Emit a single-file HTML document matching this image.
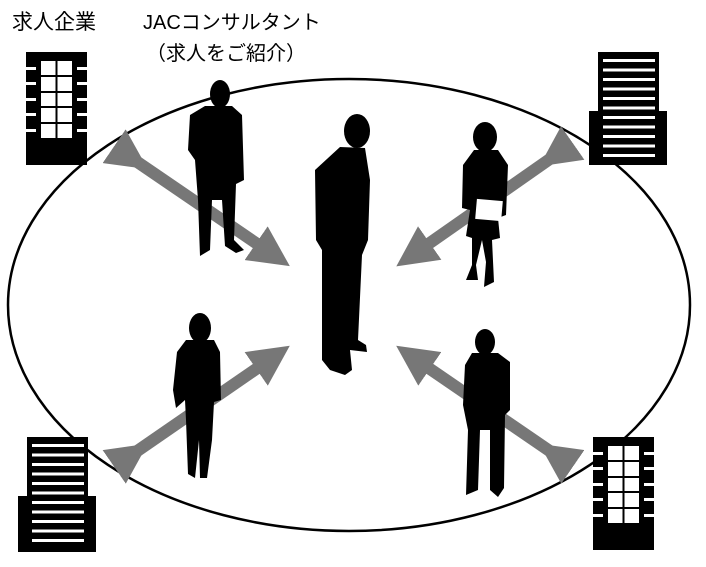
<!DOCTYPE html>
<html><head><meta charset="utf-8"><style>
html,body{margin:0;padding:0;background:#fff;}
svg{display:block}
text{font-family:"Liberation Sans","Noto Sans CJK JP",sans-serif;fill:#000;}
</style></head><body>
<svg width="706" height="567" viewBox="0 0 706 567" xmlns="http://www.w3.org/2000/svg">
<defs>
<marker id="ah" markerWidth="3.4" markerHeight="3.4" refX="1.6" refY="1.7" orient="auto" markerUnits="strokeWidth">
<path d="M0,0 L3.4,1.7 L0,3.4 Z" fill="#777"/></marker>
</defs>
<text x="12" y="29" font-size="21">求人企業</text>
<text x="143" y="29" font-size="20">JACコンサルタント</text>
<text x="146" y="60" font-size="20">（求人をご紹介）</text>

<ellipse cx="349" cy="305" rx="341" ry="226" fill="none" stroke="#000" stroke-width="2.5"/>

<g stroke="#777" stroke-width="12" fill="none">
<line x1="130" y1="157" x2="272" y2="254" marker-start="url(#ah)" marker-end="url(#ah)"/>
<line x1="557" y1="154" x2="414" y2="254" marker-start="url(#ah)" marker-end="url(#ah)"/>
<line x1="130" y1="456" x2="272" y2="358" marker-start="url(#ah)" marker-end="url(#ah)"/>
<line x1="557" y1="456" x2="414" y2="358" marker-start="url(#ah)" marker-end="url(#ah)"/>
</g>

<g>
<rect x="26" y="52" width="61" height="113" fill="#000"/>
<rect x="41" y="61" width="31" height="77" fill="#fff"/>
<g stroke="#000" stroke-width="2"><line x1="56.5" y1="61" x2="56.5" y2="138"/><line x1="41" y1="76" x2="72" y2="76"/><line x1="41" y1="92" x2="72" y2="92"/><line x1="41" y1="107" x2="72" y2="107"/><line x1="41" y1="123" x2="72" y2="123"/></g>
<g fill="#fff"><rect x="26" y="67" width="10" height="3"/><rect x="26" y="82" width="10" height="3"/><rect x="26" y="98" width="10" height="3"/><rect x="26" y="113" width="10" height="3"/><rect x="26" y="129" width="10" height="3"/>
<rect x="77" y="67" width="10" height="3"/><rect x="77" y="82" width="10" height="3"/><rect x="77" y="98" width="10" height="3"/><rect x="77" y="113" width="10" height="3"/><rect x="77" y="129" width="10" height="3"/></g>
</g>
<g transform="translate(567,385)">
<rect x="26" y="52" width="61" height="113" fill="#000"/>
<rect x="41" y="61" width="31" height="77" fill="#fff"/>
<g stroke="#000" stroke-width="2"><line x1="56.5" y1="61" x2="56.5" y2="138"/><line x1="41" y1="76" x2="72" y2="76"/><line x1="41" y1="92" x2="72" y2="92"/><line x1="41" y1="107" x2="72" y2="107"/><line x1="41" y1="123" x2="72" y2="123"/></g>
<g fill="#fff"><rect x="26" y="67" width="10" height="3"/><rect x="26" y="82" width="10" height="3"/><rect x="26" y="98" width="10" height="3"/><rect x="26" y="113" width="10" height="3"/><rect x="26" y="129" width="10" height="3"/>
<rect x="77" y="67" width="10" height="3"/><rect x="77" y="82" width="10" height="3"/><rect x="77" y="98" width="10" height="3"/><rect x="77" y="113" width="10" height="3"/><rect x="77" y="129" width="10" height="3"/></g>
</g>
<g>
<rect x="598" y="52" width="61" height="62" fill="#000"/>
<rect x="589" y="111" width="78" height="54" fill="#000"/>
<g fill="#fff">
<rect x="603" y="59" width="52" height="3"/><rect x="603" y="68.5" width="52" height="3"/><rect x="603" y="78" width="52" height="3"/><rect x="603" y="87.5" width="52" height="3"/><rect x="603" y="97" width="52" height="3"/><rect x="603" y="106.5" width="52" height="3"/><rect x="603" y="116" width="52" height="3"/><rect x="603" y="125.5" width="52" height="3"/><rect x="603" y="135" width="52" height="3"/><rect x="603" y="144.5" width="52" height="3"/><rect x="603" y="154" width="52" height="3"/>
</g></g>
<g transform="translate(-571,385)">
<rect x="598" y="52" width="61" height="62" fill="#000"/>
<rect x="589" y="111" width="78" height="56" fill="#000"/>
<g fill="#fff">
<rect x="603" y="59" width="52" height="3"/><rect x="603" y="68.5" width="52" height="3"/><rect x="603" y="78" width="52" height="3"/><rect x="603" y="87.5" width="52" height="3"/><rect x="603" y="97" width="52" height="3"/><rect x="603" y="106.5" width="52" height="3"/><rect x="603" y="116" width="52" height="3"/><rect x="603" y="125.5" width="52" height="3"/><rect x="603" y="135" width="52" height="3"/><rect x="603" y="144.5" width="52" height="3"/><rect x="603" y="154" width="52" height="3"/>
</g></g>

<g fill="#000">
<ellipse cx="357" cy="131" rx="13" ry="17"/>
<path d="M340,147 L365,148 L370,180 L368,240 L362,255 L358,340 L366,345 L367,352 L350,350 L352,370 L345,375 L330,370 L322,360 L322,250 L316,240 L315,170 Z"/>
<ellipse cx="220" cy="94" rx="10" ry="14"/>
<path d="M205,106 L232,106 L242,115 L244,180 L236,184 L234,240 L244,250 L236,253 L225,246 L222,200 L212,200 L210,250 L200,256 L198,200 L195,160 L188,150 L190,115 Z"/>
<ellipse cx="485" cy="137" rx="12" ry="15"/>
<path d="M474,150 L498,150 L508,165 L506,215 L498,218 L500,238 L492,240 L494,282 L484,287 L486,262 L482,240 L476,265 L478,280 L466,280 L472,265 L472,238 L466,236 L470,210 L462,208 L463,165 Z"/>
<rect x="476" y="200" width="26" height="20" fill="#fff" transform="rotate(5 489 210)"/>
<ellipse cx="200" cy="328" rx="11" ry="15"/>
<path d="M186,340 L214,340 L220,352 L221,400 L214,402 L212,440 L207,478 L200,478 L199,440 L195,478 L188,474 L186,420 L185,400 L176,408 L173,390 L177,352 Z"/>
<ellipse cx="485" cy="342" rx="10" ry="13"/>
<path d="M472,353 L498,353 L510,362 L510,410 L505,415 L504,488 L498,497 L490,490 L490,430 L480,430 L478,490 L466,495 L468,430 L463,405 L465,365 Z"/>
</g>
</svg>
</body></html>
